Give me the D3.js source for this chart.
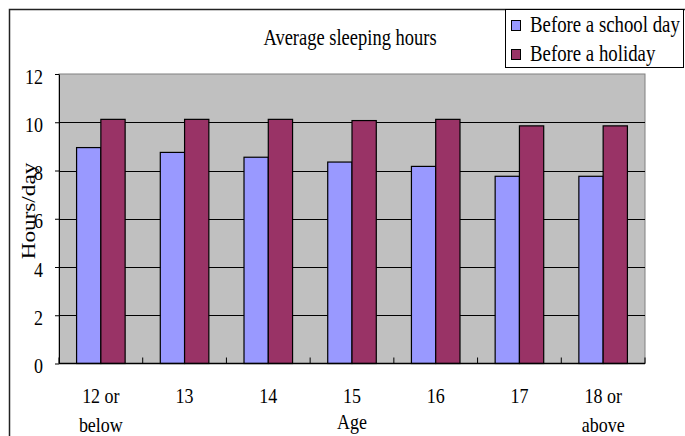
<!DOCTYPE html>
<html>
<head>
<meta charset="utf-8">
<script src="https://cdn.jsdelivr.net/npm/d3@7"></script>
<style>
  body { margin: 0; background: #fff; }
  svg { display: block; }
  svg text { font-family: "Liberation Serif", "Times New Roman", serif; fill: #000; }
</style>
</head>
<body>
<svg id="drawing_region"></svg>
<script>
// data
var categories = ['12 or below', '13', '14', '15', '16', '17', '18 or above'];
var catLines = [['12 or', 'below'], ['13'], ['14'], ['15'], ['16'], ['17'], ['18 or', 'above']];
var seriesNames = ['Before a school day', 'Before a holiday'];
var schoolDay = [8.95, 8.75, 8.55, 8.35, 8.17, 7.76, 7.76];
var holiday = [10.12, 10.12, 10.12, 10.07, 10.12, 9.85, 9.85];
var yTicks = [0, 2, 4, 6, 8, 10, 12];
var colors = ['#9999FF', '#993366'];

var width = 685;
var height = 436;
var margin = {top: 74, right: 40, bottom: 72, left: 59};
var stretch = 1.22; // the text in the picture is drawn taller than it is wide

var svg = d3.select('#drawing_region')
    .attr('width', width)
    .attr('height', height);

// outer frame (cut at right and bottom like the picture)
svg.append('rect')
    .attr('x', 9.5).attr('y', 9.5)
    .attr('width', 700).attr('height', 460)
    .attr('fill', 'none').attr('stroke', '#222').attr('stroke-width', 1.5);

var chart = svg.append('g')
    .attr('transform', `translate(${margin.left}, ${margin.top})`);

const inner_width = 645 - margin.left;
const inner_height = 363.5 - margin.top;

const xscale = d3.scaleBand()
    .domain(categories)
    .range([0, inner_width])
    .paddingInner(0.42)
    .paddingOuter(0.21);

const xsub = d3.scaleBand()
    .domain(seriesNames)
    .range([0, xscale.bandwidth()]);

const yscale = d3.scaleLinear()
    .domain([0, 12])
    .range([inner_height, 0]);

// plot background
chart.append('rect')
    .attr('x', 0).attr('y', 0)
    .attr('width', inner_width).attr('height', inner_height)
    .attr('fill', '#C0C0C0')
    .attr('stroke', '#808080');

// grid lines
chart.append('g').selectAll('line')
    .data(yTicks.filter(d => d > 0 && d < 12)).enter()
    .append('line')
    .attr('x1', 0).attr('x2', inner_width)
    .attr('y1', d => Math.round(yscale(d)) + 0.5)
    .attr('y2', d => Math.round(yscale(d)) + 0.5)
    .attr('stroke', '#000');

// y axis
const yaxis = d3.axisLeft(yscale)
    .tickValues(yTicks)
    .tickSize(4)
    .tickSizeOuter(0)
    .tickPadding(12);
const yaxis_group = chart.append('g').call(yaxis);
yaxis_group.attr('font-family', null);
yaxis_group.select('.domain').attr('stroke', '#000');
yaxis_group.selectAll('line').attr('stroke', '#000');
yaxis_group.selectAll('text')
    .attr('font-size', 18)
    .attr('dy', '0.42em')
    .attr('transform', `scale(1, ${stretch})`);

// bars
var rows = categories.map((c, i) => ({cat: c, values: [schoolDay[i], holiday[i]]}));
chart.append('g').selectAll('g')
    .data(rows).enter()
    .append('g')
    .attr('transform', d => `translate(${xscale(d.cat)}, 0)`)
    .selectAll('rect')
    .data(d => d.values.map((v, j) => ({name: seriesNames[j], value: v, j: j}))).enter()
    .append('rect')
    .attr('x', d => xsub(d.name))
    .attr('y', d => yscale(d.value))
    .attr('width', xsub.bandwidth())
    .attr('height', d => inner_height - yscale(d.value))
    .attr('fill', d => colors[d.j])
    .attr('stroke', '#000')
    .attr('stroke-width', 1.2);

// x axis baseline and ticks at category boundaries
const step = xscale.step();
chart.append('line')
    .attr('x1', 0).attr('x2', inner_width)
    .attr('y1', inner_height).attr('y2', inner_height)
    .attr('stroke', '#000').attr('stroke-width', 1.5);
chart.append('g').selectAll('line')
    .data(d3.range(categories.length + 1)).enter()
    .append('line')
    .attr('x1', i => i * step).attr('x2', i => i * step)
    .attr('y1', inner_height).attr('y2', inner_height - 6)
    .attr('stroke', '#000');

// x tick labels
chart.append('g').selectAll('g')
    .data(categories).enter()
    .append('g')
    .attr('transform', d => `translate(${xscale(d) + xscale.bandwidth() / 2}, ${inner_height + 39.5}) scale(1, ${stretch})`)
    .append('text')
    .attr('text-anchor', 'middle')
    .attr('font-size', 18)
    .each(function(d, i) {
        d3.select(this).selectAll('tspan')
            .data(catLines[i]).enter()
            .append('tspan')
            .attr('x', 0)
            .attr('dy', (t, k) => k === 0 ? 0 : 23.5)
            .text(t => t);
    });

// axis titles
chart.append('g')
    .attr('transform', `translate(${inner_width / 2}, ${inner_height + 65}) scale(1, ${stretch})`)
    .append('text')
    .attr('text-anchor', 'middle')
    .attr('font-size', 18)
    .text('Age');

svg.append('g')
    .attr('transform', `translate(35, 211) rotate(-90) scale(${stretch}, 1)`)
    .append('text')
    .attr('text-anchor', 'middle')
    .attr('font-size', 19)
    .text('Hours/day');

// title
svg.append('g')
    .attr('transform', `translate(350, 45) scale(1, ${stretch})`)
    .append('text')
    .attr('text-anchor', 'middle')
    .attr('font-size', 18.5)
    .text('Average sleeping hours');

// legend
var legend = svg.append('g');
legend.append('rect')
    .attr('x', 505.5).attr('y', 9.5)
    .attr('width', 178).attr('height', 58)
    .attr('fill', '#fff').attr('stroke', '#000');
legend.selectAll('g.item')
    .data(seriesNames).enter()
    .append('g')
    .attr('class', 'item')
    .attr('transform', (d, i) => `translate(511, ${20 + i * 29})`)
    .each(function(d, i) {
        d3.select(this).append('rect')
            .attr('x', 0.5).attr('y', 0.5)
            .attr('width', 9).attr('height', 10)
            .attr('fill', colors[i]).attr('stroke', '#000');
        d3.select(this).append('g')
            .attr('transform', `translate(19, 12) scale(1, ${stretch})`)
            .append('text')
            .attr('font-size', 18.8)
            .text(d);
    });
</script>
</body>
</html>
